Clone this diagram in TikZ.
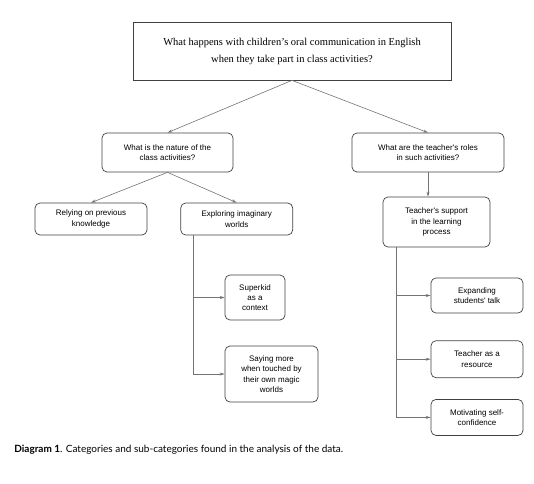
\documentclass[tikz,border=0pt]{standalone}
\usepackage{fontspec}
\setmainfont{Liberation Serif}
\newfontfamily\boxfont{Liberation Sans}
\newfontfamily\capfont{Lato}
\usetikzlibrary{arrows.meta, positioning}

\begin{document}
\begin{tikzpicture}[x=1pt, y=-1pt,
    nodes={draw=black!75, line width=0.7pt, rounded corners=5pt, align=center, inner sep=0pt,
           font=\boxfont\fontsize{8}{10.3}\selectfont},
    conn/.style={draw=black!55, line width=0.6pt, -{Stealth[length=5pt, width=3pt]}}]
    \useasboundingbox (0,0) rectangle (534,483);

    % Main question
    \node (top) [minimum width=318pt, minimum height=58pt, rounded corners=0pt,
                 font=\fontsize{10.5}{17}\selectfont] at (292,51)
        {What happens with children's oral communication in English\\when they take part in class activities?};

    % Categories
    \node (q1) [minimum width=131pt, minimum height=39pt] at (167.5,152.5)
        {What is the nature of the\\class activities?};
    \node (q2) [minimum width=152pt, minimum height=39pt] at (428,152.5)
        {What are the teacher's roles\\in such activities?};
    \draw[conn] (top.south) -- (q1.north);
    \draw[conn] (top.south) -- (q2.north);

    % Sub-categories (activities)
    \node (r1) [minimum width=112pt, minimum height=32pt] at (91,219)
        {Relying on previous\\knowledge};
    \node (e1) [minimum width=112pt, minimum height=32pt, right=33pt of r1]
        {Exploring imaginary\\worlds};
    \node (sk) [minimum width=60pt, minimum height=45pt] at (255,297.5)
        {Superkid\\as a\\context};
    \node (sm) [minimum width=93pt, minimum height=56pt] at (271.5,374)
        {Saying more\\when touched by\\their own magic\\worlds};
    \draw[conn] (q1.south) -- (r1.north);
    \draw[conn] (q1.south) -- (e1.north);
    \draw[conn] ([xshift=13pt]e1.south west) |- (sk.west);
    \draw[conn] ([xshift=13pt]e1.south west) |- (sm.west);

    % Sub-categories (teacher)
    \node (ts) [minimum width=107pt, minimum height=50pt] at (436.5,222)
        {Teacher's support\\in the learning\\process};
    \node (ex) [minimum width=92pt, minimum height=35pt] at (477,295.5)
        {Expanding\\students' talk};
    \node (tr) [minimum width=92pt, minimum height=37pt, below=27pt of ex]
        {Teacher as a\\resource};
    \node (mv) [minimum width=92pt, minimum height=36pt, below=21pt of tr]
        {Motivating self-\\confidence};
    \draw[conn] (q2.south) -- (q2.south |- ts.north);
    \draw[conn] ([xshift=14pt]ts.south west) |- (ex.west);
    \draw[conn] ([xshift=14pt]ts.south west) |- (tr.west);
    \draw[conn] ([xshift=14pt]ts.south west) |- (mv.west);

    \node[draw=none, anchor=west, font=\capfont\fontsize{10}{12}\selectfont] (cap) at (14,450)
        {\textbf{Diagram 1}. Categories and sub-categories found in the analysis of the data.};
\end{tikzpicture}
\end{document}
